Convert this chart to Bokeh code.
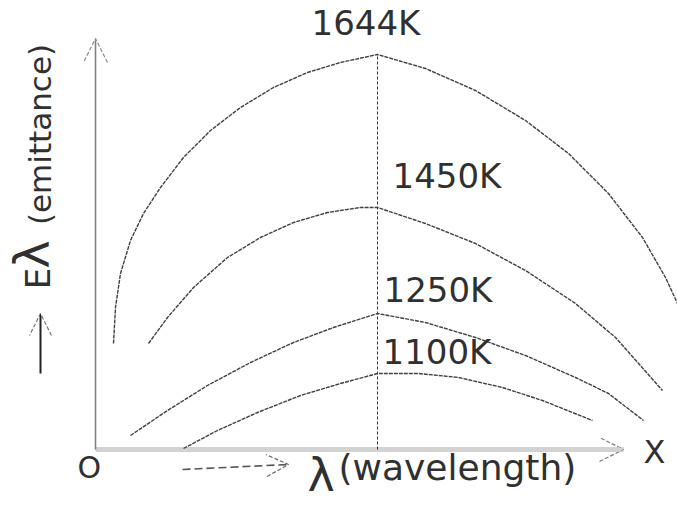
from bokeh.plotting import figure
from bokeh.models import Range1d, Arrow, OpenHead, ColumnDataSource
from bokeh.core.properties import value
from bokeh.embed import file_html
from bokeh.resources import INLINE
import math

# ---- data (wavelength, emittance) in chart units; origin at O ----
t1644_x = [18, 20, 25, 35, 48, 65, 88, 115, 145, 178, 212, 245, 282, 330, 380, 430, 473, 513, 547, 570, 582]
t1644_y = [106, 142, 176, 209, 236, 262, 292, 319, 342, 362, 377, 387, 395, 381, 359, 329, 296, 256, 212, 172, 146]

t1450_x = [53, 72, 98, 132, 165, 198, 232, 265, 282, 330, 380, 430, 480, 520, 567]
t1450_y = [106, 132, 162, 192, 212, 227, 237, 242, 242, 226, 206, 179, 146, 112, 59]

t1250_x = [35, 72, 112, 155, 198, 238, 282, 330, 380, 430, 480, 513, 548]
t1250_y = [14, 39, 64, 87, 107, 122, 136, 127, 112, 94, 72, 56, 29]

t1100_x = [88, 122, 162, 205, 245, 282, 323, 363, 407, 447, 497]
t1100_y = [1, 19, 37, 54, 66, 76, 76, 72, 62, 49, 29]

peak_x = 282          # common peak wavelength marker
peak_top = 395

labels = ["1644K", "1450K", "1250K", "1100K"]
label_x = [216, 297, 288, 287]
label_y = [427, 274, 160, 98]

x_axis_len = 528
y_axis_len = 411

FONT = value("DejaVu Sans")
TXT = "#303030"
CURVE = "#404040"

p = figure(width=677, height=506, output_backend="svg", toolbar_location=None,
           x_range=Range1d(-95, 582), y_range=Range1d(-57, 449),
           min_border=0, outline_line_color=None)
p.axis.visible = False
p.grid.visible = False
p.background_fill_color = "white"
p.border_fill_color = "white"

# axes
p.line([0, x_axis_len], [0, 0], line_color="#d2d2d2", line_width=5)
p.add_layout(Arrow(x_start=x_axis_len - 10, y_start=0, x_end=x_axis_len, y_end=0,
                   line_color="#d2d2d2", line_width=5,
                   end=OpenHead(size=24, line_color="#7a7a7a", line_width=1.2, line_dash="4 2")))
p.add_layout(Arrow(x_start=0, y_start=0, x_end=0, y_end=y_axis_len,
                   line_color="#808080", line_width=1.6,
                   end=OpenHead(size=24, line_color="#8a8a8a", line_width=1.2, line_dash="4 2")))

# peak marker
p.line([peak_x, peak_x], [0, peak_top], line_color="#333333", line_width=1, line_dash="3 2")

# curves
for xs, ys in [(t1644_x, t1644_y), (t1450_x, t1450_y), (t1250_x, t1250_y), (t1100_x, t1100_y)]:
    p.line(xs, ys, line_color=CURVE, line_width=1.4, line_dash="4 1")

# curve labels
src = ColumnDataSource(dict(x=label_x, y=label_y, t=labels))
p.text(x="x", y="y", text="t", source=src, text_font=FONT, text_font_size="34px",
       text_color=TXT, text_align="left", text_baseline="alphabetic")

# axis texts
p.text(x=[243], y=[-18], text=["(wavelength)"], text_font=FONT, text_font_size="36px",
       text_color=TXT, text_align="left", text_baseline="alphabetic")
p.text(x=[212], y=[-25], text=["λ"], text_font=FONT, text_font_size="46px",
       text_color=TXT, text_align="left", text_baseline="alphabetic")
p.text(x=[548], y=[-2], text=["X"], text_font=FONT, text_font_size="32px",
       text_color=TXT, text_align="left", text_baseline="alphabetic")
p.text(x=[-18], y=[-18], text=["O"], text_font=FONT, text_font_size="30px",
       text_color=TXT, text_align="left", text_baseline="alphabetic")

# y label (rotated)
p.text(x=[-56], y=[315], text=["(emittance)"], text_font=FONT, text_font_size="31px",
       text_color=TXT, text_align="center", text_baseline="middle", angle=math.pi / 2)
p.text(x=[-58], y=[171], text=["E"], text_font=FONT, text_font_size="34px",
       text_color=TXT, text_align="center", text_baseline="middle", angle=math.pi / 2)
p.text(x=[-64], y=[195], text=["λ"], text_font=FONT, text_font_size="48px",
       text_color=TXT, text_align="center", text_baseline="middle", angle=math.pi / 2)

# direction arrows
p.add_layout(Arrow(x_start=-55, y_start=76, x_end=-55, y_end=136,
                   line_color="#222222", line_width=2,
                   end=OpenHead(size=22, line_color="#777777", line_width=1.2, line_dash="4 2")))
p.add_layout(Arrow(x_start=87, y_start=-20, x_end=193, y_end=-15,
                   line_color="#555555", line_width=1.6, line_dash="8 4",
                   end=OpenHead(size=22, line_color="#666666", line_width=1.2, line_dash="4 2")))

open("out.html", "w").write(file_html(p, INLINE))
